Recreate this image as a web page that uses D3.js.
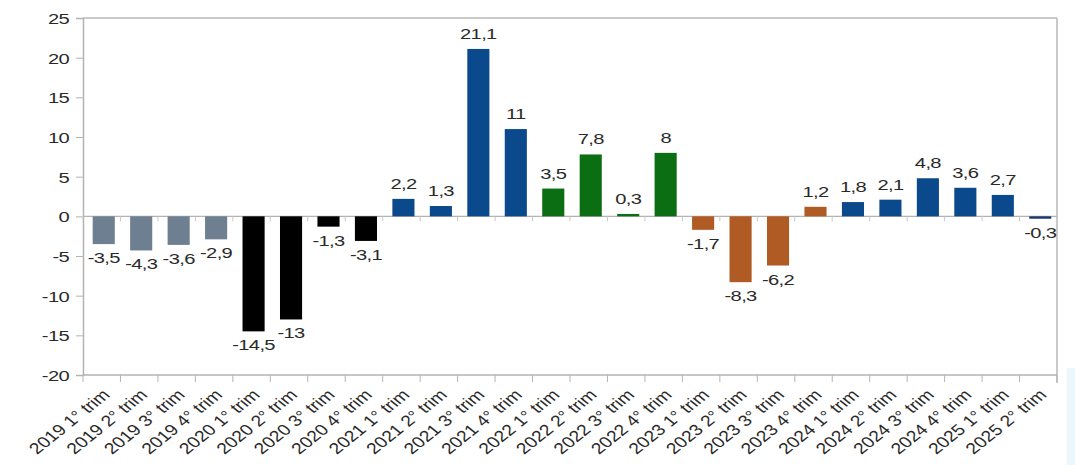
<!DOCTYPE html>
<html><head><meta charset="utf-8">
<script src="https://cdn.jsdelivr.net/npm/d3@7"></script>
<style>body{margin:0;background:#fff}svg{display:block}</style>
</head><body>
<svg id="c" width="1075" height="465"></svg>
<script>
const categories = ["2019 1° trim","2019 2° trim","2019 3° trim","2019 4° trim","2020 1° trim","2020 2° trim","2020 3° trim","2020 4° trim","2021 1° trim","2021 2° trim","2021 3° trim","2021 4° trim","2022 1° trim","2022 2° trim","2022 3° trim","2022 4° trim","2023 1° trim","2023 2° trim","2023 3° trim","2023 4° trim","2024 1° trim","2024 2° trim","2024 3° trim","2024 4° trim","2025 1° trim","2025 2° trim"];
const values = [-3.5,-4.3,-3.6,-2.9,-14.5,-13,-1.3,-3.1,2.2,1.3,21.1,11,3.5,7.8,0.3,8,-1.7,-8.3,-6.2,1.2,1.8,2.1,4.8,3.6,2.7,-0.3];
const groups = ["2019","2019","2019","2019","2020","2020","2020","2020","2021","2021","2021","2021","2022","2022","2022","2022","2023","2023","2023","2023","2024","2024","2024","2024","2025","2025last"];
const groupColors = {"2019":"#6d7f90","2020":"#000000","2021":"#0a4a8c","2022":"#0b6e12","2023":"#b05a24","2024":"#0a4a8c","2025":"#0a4a8c","2025last":"#16386a"};
const yTicks = [-20,-15,-10,-5,0,5,10,15,20,25];

const svg = d3.select("#c");
const L = 83, R = 1057, T = 18, B = 375;
const SX = 1.3; // horizontal stretch of the reference text
const x = d3.scaleBand().domain(categories).range([L, R]).paddingInner(0.41).paddingOuter(0.205);
const xb = d3.scaleBand().domain(categories).range([L, R]);
const y = d3.scaleLinear().domain([-20, 25]).range([B, T]);
const font = "'Liberation Sans', Arial, sans-serif";

// faint strip at right
svg.append("rect").attr("x",1067).attr("y",368).attr("width",8).attr("height",97).attr("fill","#eaf8fb");

// frame top/right
svg.append("line").attr("x1",L).attr("x2",R).attr("y1",T).attr("y2",T).attr("stroke","#b8b8b8").attr("stroke-width",1.5);
svg.append("line").attr("x1",R).attr("x2",R).attr("y1",T).attr("y2",B+8).attr("stroke","#b8b8b8").attr("stroke-width",1.5);

// y axis
const ya = svg.append("g").attr("transform",`translate(${L},0)`)
  .call(d3.axisLeft(y).tickValues(yTicks).tickSize(7).tickFormat(d=>String(d)));
ya.select(".domain").attr("stroke","#b3b3b3").attr("stroke-width",1.5);
ya.selectAll(".tick line").attr("stroke","#b3b3b3");
ya.selectAll(".tick text")
  .attr("x",null).attr("dy",null)
  .attr("transform",`translate(-14,0) scale(${SX},1) translate(0,5.5)`)
  .attr("font-family",font).attr("font-size",15.5).attr("fill","#2a2a2a").attr("letter-spacing","-0.5px");

// bottom axis
const xa = svg.append("g").attr("transform",`translate(0,${B})`);
xa.append("line").attr("x1",L).attr("x2",R).attr("stroke","#b3b3b3").attr("stroke-width",1.5);
xa.selectAll("line.t").data(categories.concat(["_end"])).join("line").attr("class","t")
  .attr("x1",(d,i)=>L+i*xb.bandwidth()).attr("x2",(d,i)=>L+i*xb.bandwidth())
  .attr("y1",0).attr("y2",7).attr("stroke","#b3b3b3");
xa.selectAll("text").data(categories).join("text")
  .attr("transform",d=>`translate(${xb(d)+xb.bandwidth()*0.62},17) scale(1.25,1) rotate(-45)`)
  .attr("text-anchor","end").attr("dy","0.35em").attr("font-family",font).attr("font-size",15.5).attr("fill","#2a2a2a")
  .text(d=>d);

// zero line
svg.append("line").attr("x1",L).attr("x2",R).attr("y1",y(0)).attr("y2",y(0)).attr("stroke","#b3b3b3").attr("stroke-width",1.2);
svg.selectAll("line.zt").data(categories.concat(["_end"])).join("line").attr("class","zt")
  .attr("x1",(d,i)=>L+i*xb.bandwidth()).attr("x2",(d,i)=>L+i*xb.bandwidth())
  .attr("y1",y(0)).attr("y2",y(0)+5).attr("stroke","#c8c8c8");

// bars
svg.selectAll("rect.bar").data(values).join("rect").attr("class","bar")
  .attr("x",(d,i)=>x(categories[i])+2)
  .attr("width",x.bandwidth())
  .attr("y",d=>y(Math.max(0,d)))
  .attr("height",d=>Math.abs(y(d)-y(0)))
  .attr("fill",(d,i)=>groupColors[groups[i]]);

// value labels
svg.selectAll("text.val").data(values).join("text").attr("class","val")
  .attr("transform",(d,i)=>`translate(${x(categories[i])+2+x.bandwidth()/2},${d>=0 ? y(d)-10 : y(d)+19}) scale(${SX},1)`)
  .attr("text-anchor","middle").attr("font-family",font).attr("font-size",15.5).attr("fill","#2a2a2a")
  .attr("letter-spacing","-0.5px")
  .text(d=>String(d).replace(".",","));
</script>
</body></html>
